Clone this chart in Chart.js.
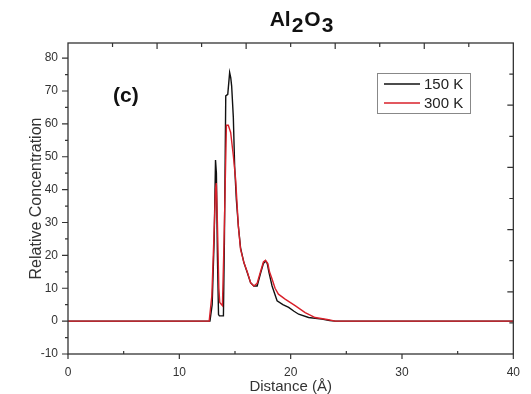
<!DOCTYPE html>
<html>
<head>
<meta charset="utf-8">
<script src="https://cdn.jsdelivr.net/npm/chart.js@4/dist/chart.umd.min.js"></script>
<style>
  html, body { margin: 0; padding: 0; background: #fff; }
  #wrap { width: 531px; height: 394px; }
</style>
</head>
<body>
<div id="wrap"><canvas id="c" width="531" height="394"></canvas></div>
<script>
// ---- data ----
const dist150 = [0, 12.75, 12.95, 13.13, 13.25, 13.33, 13.42, 13.52, 13.6, 13.96, 14.05, 14.17, 14.35, 14.52, 14.62, 14.70, 14.85, 14.97, 15.12, 15.30, 15.50, 15.80, 16.1, 16.4, 16.69, 16.99, 17.29, 17.55, 17.74, 17.9, 18.04, 18.33, 18.78, 19.3, 19.82, 20.3, 20.72, 21.61, 22.8, 23.5, 23.99, 40];
const conc150 = [0, 0, 5, 25, 49, 45, 20, 2, 1.6, 1.6, 25, 68.5, 69, 75.6, 74, 71.5, 62, 47, 37, 29, 22.3, 17.8, 14.8, 11.7, 10.7, 10.7, 14.5, 17.5, 18.3, 17.5, 15, 10.7, 6.2, 5, 4.2, 3, 2.1, 1.1, 0.6, 0.2, 0, 0];

const dist300 = [0, 12.68, 12.92, 13.1, 13.25, 13.32, 13.42, 13.55, 13.63, 13.87, 14.02, 14.23, 14.40, 14.61, 14.85, 15.06, 15.30, 15.50, 15.80, 16.1, 16.4, 16.69, 16.99, 17.29, 17.55, 17.74, 17.95, 18.1, 18.33, 18.6, 18.9, 19.5, 20.4, 21.3, 22.2, 23.4, 24.0, 40];
const conc300 = [0, 0, 7.7, 25, 40.1, 42, 30, 10, 5.7, 4.7, 24.9, 59.6, 59.6, 57.4, 50.3, 43, 28.9, 21.8, 17.8, 15, 11.7, 10.7, 11.5, 15, 18, 18.5, 17.5, 15, 12.8, 10, 8.2, 6.7, 4.7, 2.6, 1.1, 0.4, 0, 0];

const seriesLabels = ['150 K', '300 K'];
const xTickLabels = [0, 10, 20, 30, 40];
const xMinorTicks = [5, 15, 25, 35];
const yTickLabels = [-10, 0, 10, 20, 30, 40, 50, 60, 70, 80];
const yMinorTicks = [-5, 5, 15, 25, 35, 45, 55, 65, 75];
const topTicks = [1, 2, 3, 4, 5, 6, 7, 8, 9];      // on hidden 0..10 top scale
const rightTicks = [1, 2, 3, 4, 5, 6, 7, 8, 9];    // on hidden 0..10 right scale
const titleParts = [['Al', false], ['2', true], ['O', false], ['3', true]];
const panelLabel = '(c)';

const FONT = "'Liberation Sans', Arial, sans-serif";
const AXIS = '#333';

const toPts = (xs, ys) => xs.map((x, i) => ({ x: x, y: ys[i] }));

const framePlugin = {
  id: 'frame',
  afterDraw(chart) {
    const ctx = chart.ctx;
    const a = chart.chartArea;
    const sx = chart.scales.x, sy = chart.scales.y;
    const sx2 = chart.scales.x2, sy2 = chart.scales.y2;
    ctx.save();
    ctx.strokeStyle = AXIS;
    ctx.lineWidth = 1.3;
    ctx.strokeRect(a.left, a.top, a.right - a.left, a.bottom - a.top);
    ctx.lineWidth = 1.2;
    ctx.beginPath();
    // bottom ticks
    xTickLabels.forEach(v => { const p = sx.getPixelForValue(v); ctx.moveTo(p, a.bottom); ctx.lineTo(p, a.bottom + 5); });
    xMinorTicks.forEach(v => { const p = sx.getPixelForValue(v); ctx.moveTo(p, a.bottom); ctx.lineTo(p, a.bottom - 3); });
    // left ticks
    yTickLabels.forEach(v => { const p = sy.getPixelForValue(v); ctx.moveTo(a.left, p); ctx.lineTo(a.left - 6, p); });
    yMinorTicks.forEach(v => { const p = sy.getPixelForValue(v); ctx.moveTo(a.left, p); ctx.lineTo(a.left - 3, p); });
    // top ticks (inward)
    topTicks.forEach(v => { const p = sx2.getPixelForValue(v); const l = v % 2 === 0 ? 6 : 4; ctx.moveTo(p, a.top); ctx.lineTo(p, a.top + l); });
    // right ticks (inward)
    rightTicks.forEach(v => { const p = sy2.getPixelForValue(v); const l = v % 2 === 0 ? 6 : 4; ctx.moveTo(a.right, p); ctx.lineTo(a.right - l, p); });
    ctx.stroke();

    // title with subscripts
    ctx.fillStyle = '#111';
    ctx.font = 'bold 21px ' + FONT;
    ctx.textBaseline = 'alphabetic';
    ctx.textAlign = 'left';
    const gap = 1;
    let total = 0;
    titleParts.forEach(p => { total += ctx.measureText(p[0]).width + gap; });
    let x = 302 - total / 2;
    titleParts.forEach(p => {
      ctx.fillText(p[0], x, p[1] ? 32 : 26);
      x += ctx.measureText(p[0]).width + gap;
    });

    // panel label
    ctx.font = 'bold 21px ' + FONT;
    ctx.textAlign = 'center';
    ctx.textBaseline = 'middle';
    ctx.fillText(panelLabel, sx.getPixelForValue(5.2), sy.getPixelForValue(68.4));

    // legend
    const lx = 377, ly = 73, lw = 93, lh = 40;
    ctx.strokeStyle = '#888';
    ctx.lineWidth = 1;
    ctx.strokeRect(lx + 0.5, ly + 0.5, lw, lh);
    ctx.font = '15px ' + FONT;
    ctx.textAlign = 'left';
    chart.data.datasets.forEach((ds, i) => {
      const yy = ly + 11 + i * 19;
      ctx.strokeStyle = ds.borderColor;
      ctx.lineWidth = 1.3;
      ctx.beginPath();
      ctx.moveTo(lx + 7, yy);
      ctx.lineTo(lx + 43, yy);
      ctx.stroke();
      ctx.fillStyle = '#222';
      ctx.fillText(ds.label, lx + 47, yy + 1);
    });
    ctx.restore();
  }
};

new Chart(document.getElementById('c'), {
  type: 'line',
  data: {
    datasets: [
      { label: seriesLabels[0], data: toPts(dist150, conc150), borderColor: '#111111', borderWidth: 1.4, pointRadius: 0, tension: 0, order: 2 },
      { label: seriesLabels[1], data: toPts(dist300, conc300), borderColor: '#d8202a', borderWidth: 1.4, pointRadius: 0, tension: 0, order: 1 }
    ]
  },
  options: {
    responsive: false,
    animation: false,
    events: [],
    layout: { padding: { top: 43, right: 15, left: 27, bottom: 0 } },
    plugins: { legend: { display: false }, tooltip: { enabled: false }, title: { display: false } },
    scales: {
      x: {
        type: 'linear', min: 0, max: 40,
        afterBuildTicks: s => { s.ticks = xTickLabels.map(v => ({ value: v })); },
        afterFit: s => { s.height = 40; },
        grid: { display: false, drawTicks: false },
        border: { display: false },
        ticks: { padding: 11, color: '#333', font: { family: FONT, size: 12 }, maxRotation: 0 },
        title: { display: true, text: 'Distance (Å)', color: '#333', font: { family: FONT, size: 15 }, padding: { top: 0, bottom: -2 } }
      },
      y: {
        type: 'linear', min: -10, max: 84.6,
        afterBuildTicks: s => { s.ticks = yTickLabels.map(v => ({ value: v })); },
        afterFit: s => { s.width = 41; },
        grid: { display: false, drawTicks: false },
        border: { display: false },
        ticks: { padding: 10, color: '#333', font: { family: FONT, size: 12 } },
        title: { display: true, text: 'Relative Concentration', color: '#333', font: { family: FONT, size: 16 }, padding: { top: 0, bottom: 0 } }
      },
      x2: { type: 'linear', min: 0, max: 10, display: false, position: 'top' },
      y2: { type: 'linear', min: 0, max: 10, display: false, position: 'right' }
    }
  },
  plugins: [framePlugin]
});
</script>
</body>
</html>
